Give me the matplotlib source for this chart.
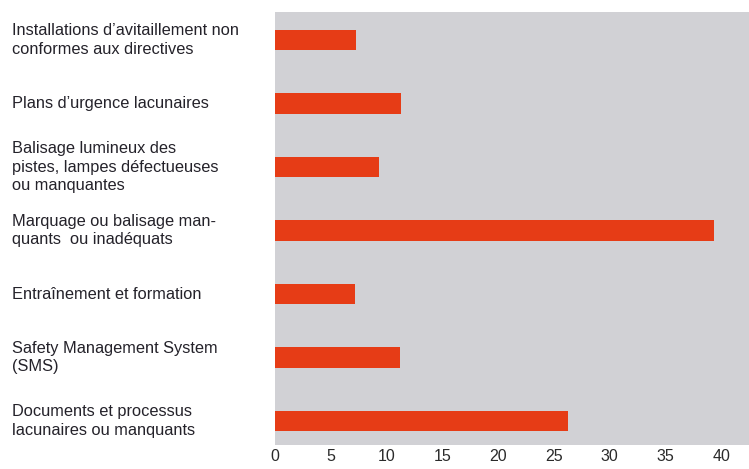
import matplotlib.pyplot as plt

categories = [
    "Installations d\u2019avitaillement non\nconformes aux directives",
    "Plans d\u2019urgence lacunaires",
    "Balisage lumineux des\npistes, lampes d\u00e9fectueuses\nou manquantes",
    "Marquage ou balisage man-\nquants  ou inad\u00e9quats",
    "Entra\u00eenement et formation",
    "Safety Management System\n(SMS)",
    "Documents et processus\nlacunaires ou manquants",
]
values = [7.3, 11.3, 9.3, 39.4, 7.2, 11.2, 26.3]
xticks = [0, 5, 10, 15, 20, 25, 30, 35, 40]

plt.rcParams['font.family'] = ['Liberation Sans', 'DejaVu Sans']

fig = plt.figure(figsize=(7.49, 4.69), dpi=100)
ax = fig.add_axes([0.367, 0.051, 0.633, 0.923])
ax.set_facecolor('#d1d1d5')

pos = list(range(len(categories)))
ax.barh(pos, values, height=0.32, color='#e63c16', zorder=2)

ax.set_xlim(0, 42.5)
ax.set_ylim(6.38, -0.44)
ax.set_xticks(xticks)
ax.set_xticklabels([str(t) for t in xticks], fontsize=11.5, color='#2a2a2a')
ax.tick_params(axis='x', length=0, pad=3)
ax.set_yticks([])
for s in ax.spines.values():
    s.set_visible(False)

# category labels sit left of the plot, left-aligned, centred on each bar
for p, lab in zip(pos, categories):
    y_fig = ax.transData.transform((0, p))[1]
    fig.text(12 / 749, y_fig / fig.dpi / fig.get_figheight(), lab,
             ha='left', va='center', fontsize=11.8, color='#24222a',
             linespacing=1.3)

fig.savefig('out.png', dpi=100, facecolor='white')
